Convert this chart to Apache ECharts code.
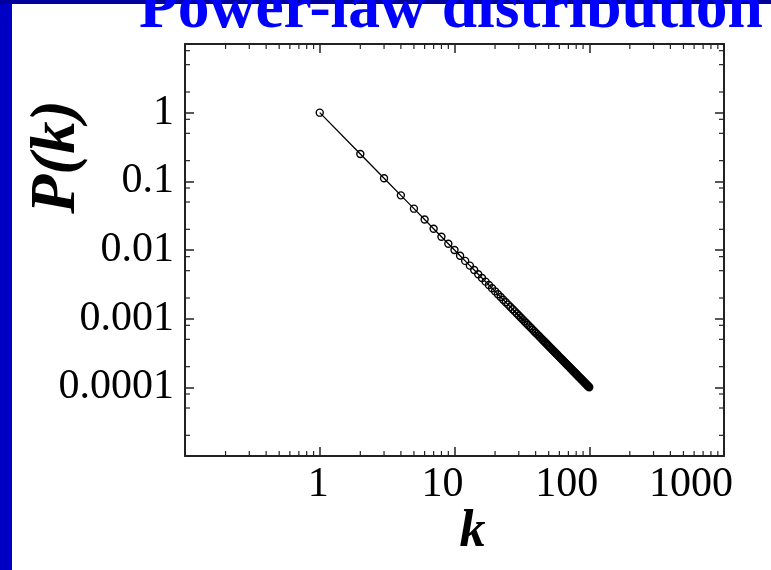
<!DOCTYPE html>
<html>
<head>
<meta charset="utf-8">
<script src="https://cdn.jsdelivr.net/npm/echarts@6/dist/echarts.min.js"></script>
<style>
  html, body { margin: 0; padding: 0; background: #fff; }
  #chart { width: 771px; height: 570px; }
</style>
</head>
<body>
<div id="chart"></div>
<script>
const kValues = [
  1, 2, 3, 4, 5, 6, 7, 8, 9, 10,
  11, 12, 13, 14, 15, 16, 17, 18, 19, 20,
  21, 22, 23, 24, 25, 26, 27, 28, 29, 30,
  31, 32, 33, 34, 35, 36, 37, 38, 39, 40,
  41, 42, 43, 44, 45, 46, 47, 48, 49, 50,
  51, 52, 53, 54, 55, 56, 57, 58, 59, 60,
  61, 62, 63, 64, 65, 66, 67, 68, 69, 70,
  71, 72, 73, 74, 75, 76, 77, 78, 79, 80,
  81, 82, 83, 84, 85, 86, 87, 88, 89, 90,
  91, 92, 93, 94, 95, 96, 97, 98, 99, 100
];
const pValues = [
  1, 0.25, 0.1111, 0.0625, 0.04, 0.02778, 0.02041, 0.01563, 0.01235, 0.01,
  0.008264, 0.006944, 0.005917, 0.005102, 0.004444, 0.003906, 0.00346, 0.003086, 0.00277, 0.0025,
  0.002268, 0.002066, 0.00189, 0.001736, 0.0016, 0.001479, 0.001372, 0.001276, 0.001189, 0.001111,
  0.001041, 0.0009766, 0.0009183, 0.0008651, 0.0008163, 0.0007716, 0.0007305, 0.0006925, 0.0006575, 0.000625,
  0.0005949, 0.0005669, 0.0005408, 0.0005165, 0.0004938, 0.0004726, 0.0004527, 0.000434, 0.0004165, 0.0004,
  0.0003845, 0.0003698, 0.000356, 0.0003429, 0.0003306, 0.0003189, 0.0003078, 0.0002973, 0.0002873, 0.0002778,
  0.0002687, 0.0002601, 0.000252, 0.0002441, 0.0002367, 0.0002296, 0.0002228, 0.0002163, 0.00021, 0.0002041,
  0.0001984, 0.0001929, 0.0001877, 0.0001826, 0.0001778, 0.0001731, 0.0001687, 0.0001644, 0.0001602, 0.0001563,
  0.0001524, 0.0001487, 0.0001452, 0.0001417, 0.0001384, 0.0001352, 0.0001321, 0.0001291, 0.0001262, 0.0001235,
  0.0001208, 0.0001181, 0.0001156, 0.0001132, 0.0001108, 0.0001085, 0.0001063, 0.0001041, 0.000102, 0.0001
];

// tick labels, one per decade (empty = unlabelled decade)
const xTickLabels = ['', '1', '10', '100', '1000'];
const yTickLabels = ['', '0.0001', '0.001', '0.01', '0.1', '1', ''];

// minor tick values
const xMinorTicks = [
  0.2, 0.3, 0.4, 0.5, 0.6, 0.7, 0.8, 0.9,
  2, 3, 4, 5, 6, 7, 8, 9,
  20, 30, 40, 50, 60, 70, 80, 90,
  200, 300, 400, 500, 600, 700, 800, 900
];
const yMinorTicks = [
  0.00002, 0.00005, 0.00008,
  0.0002, 0.0005, 0.0008,
  0.002, 0.005, 0.008,
  0.02, 0.05, 0.08,
  0.2, 0.5, 0.8,
  2, 5, 8
];

const X_MIN = 0.1, X_MAX = 1000;
const Y_MIN = 0.00001, Y_MAX = 10;

const serif = '"Liberation Serif", "DejaVu Serif", serif';
const frameColor = '#222';

const chart = echarts.init(document.getElementById('chart'));

const baseX = {
  type: 'log',
  logBase: 10,
  min: X_MIN,
  max: X_MAX,
  splitNumber: 4,
  splitLine: { show: false },
  axisLine: { show: true, lineStyle: { color: frameColor, width: 2 } },
  axisTick: { show: true, inside: true, length: 9, lineStyle: { color: frameColor, width: 1.5 } },
  minorTick: { show: false }
};
const baseY = {
  type: 'log',
  logBase: 10,
  min: Y_MIN,
  max: Y_MAX,
  splitNumber: 6,
  splitLine: { show: false },
  axisLine: { show: true, lineStyle: { color: frameColor, width: 2 } },
  axisTick: { show: true, inside: true, length: 9, lineStyle: { color: frameColor, width: 1.5 } },
  minorTick: { show: false }
};

function minorTickRender(isX) {
  return function (params, api) {
    const v = api.value(isX ? 0 : 1);
    const len = 5;
    const style = { stroke: frameColor, lineWidth: 1.2 };
    if (isX) {
      const b = api.coord([v, Y_MIN]);
      const t = api.coord([v, Y_MAX]);
      return {
        type: 'group',
        children: [
          { type: 'line', shape: { x1: b[0], y1: b[1], x2: b[0], y2: b[1] - len }, style },
          { type: 'line', shape: { x1: t[0], y1: t[1], x2: t[0], y2: t[1] + len }, style }
        ]
      };
    }
    const l = api.coord([X_MIN, v]);
    const r = api.coord([X_MAX, v]);
    return {
      type: 'group',
      children: [
        { type: 'line', shape: { x1: l[0], y1: l[1], x2: l[0] + len, y2: l[1] }, style },
        { type: 'line', shape: { x1: r[0], y1: r[1], x2: r[0] - len, y2: r[1] }, style }
      ]
    };
  };
}

chart.setOption({
  backgroundColor: '#fff',
  animation: false,
  title: {
    text: 'Power-law distribution',
    left: 134,
    top: -26,
    textStyle: { color: '#0000ff', fontFamily: serif, fontWeight: 'bold', fontSize: 63.5 }
  },
  graphic: [
    { type: 'rect', left: 0, top: 0, z: -1, shape: { width: 12, height: 570 }, style: { fill: '#0000c4' } },
    { type: 'rect', left: 0, top: 0, z: -1, shape: { width: 771, height: 4 }, style: { fill: '#00009c' } }
  ],
  grid: { left: 185, right: 47, top: 44, bottom: 114, containLabel: false, outerBoundsMode: 'none' },
  xAxis: [
    {
      ...baseX,
      position: 'bottom',
      name: 'k',
      nameLocation: 'middle',
      nameGap: 51,
      nameMoveOverlap: false,
      nameTextStyle: {
        fontFamily: serif, fontStyle: 'italic', fontWeight: 'bold', fontSize: 52, color: '#000',
        padding: [0, 0, 0, 36]
      },
      axisLabel: {
        margin: 8,
        align: 'right',
        padding: [0, -9, 0, 0],
        fontFamily: serif,
        fontSize: 42,
        color: '#000',
        formatter: (v, i) => xTickLabels[i] ?? ''
      }
    },
    { ...baseX, position: 'top', axisLabel: { show: false } }
  ],
  yAxis: [
    {
      ...baseY,
      position: 'left',
      name: 'P(k)',
      nameLocation: 'middle',
      nameRotate: 90,
      nameGap: 96,
      nameMoveOverlap: false,
      nameTextStyle: {
        fontFamily: serif, fontStyle: 'italic', fontWeight: 'bold', fontSize: 64, color: '#000',
        padding: [0, 0, 0, 186]
      },
      axisLabel: {
        margin: 11,
        padding: [8, 0, 0, 0],
        fontFamily: serif,
        fontSize: 42,
        color: '#000',
        formatter: (v, i) => yTickLabels[i] ?? ''
      }
    },
    { ...baseY, position: 'right', axisLabel: { show: false } }
  ],
  series: [
    {
      type: 'line',
      data: kValues.map((k, i) => [k, pValues[i]]),
      symbol: 'circle',
      symbolSize: 7,
      lineStyle: { color: '#000', width: 1.3 },
      itemStyle: { color: 'rgba(0,0,0,0)', borderColor: '#000', borderWidth: 1.4 },
      z: 3
    },
    {
      type: 'custom',
      data: xMinorTicks.map(v => [v, Y_MIN]),
      renderItem: minorTickRender(true),
      clip: false,
      silent: true
    },
    {
      type: 'custom',
      data: yMinorTicks.map(v => [X_MIN, v]),
      renderItem: minorTickRender(false),
      clip: false,
      silent: true
    }
  ]
});
</script>
</body>
</html>
